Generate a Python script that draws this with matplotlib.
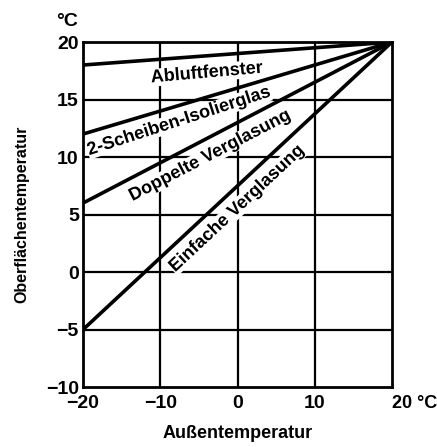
import matplotlib
matplotlib.use("Agg")
import matplotlib.pyplot as plt
import matplotlib.patheffects as pe

plt.rcParams['font.family'] = 'Liberation Sans'

x_outside = [-20, 20]
series_names = ["Abluftfenster", "2-Scheiben-Isolierglas", "Doppelte Verglasung", "Einfache Verglasung"]
series_values = [[18, 20], [12, 20], [6, 20], [-5, 20]]
label_pos = [(-4.0, 17.3), (-7.6, 13.1), (-3.6, 10.1), (-0.1, 5.5)]
label_rot = [5, 18, 27.5, 43]

x_ticks = [-20, -10, 0, 10, 20]
x_ticklabels = ["\u221220", "\u221210", "0", "10", "20 \u00b0C"]
y_ticks = [-10, -5, 0, 5, 10, 15, 20]
y_ticklabels = ["\u221210", "\u22125", "0", "5", "10", "15", "20"]

fig = plt.figure(figsize=(4.37, 4.47), dpi=100)
ax = fig.add_axes([0.19, 0.134, 0.707, 0.772])
ax.set_xlim(-20, 20)
ax.set_ylim(-10, 20)

for v in [-10, 0, 10]:
    ax.axvline(v, color='black', lw=1.6, zorder=1)
for v in [-5, 0, 5, 10, 15]:
    ax.axhline(v, color='black', lw=1.6, zorder=1)

for vals in series_values:
    ax.plot(x_outside, vals, color='black', lw=2.6, zorder=3, solid_capstyle='butt')

for name, (lx, ly), rot in zip(series_names, label_pos, label_rot):
    ax.text(lx, ly, name, rotation=rot, rotation_mode='anchor', ha='center', va='center',
            fontsize=13, fontweight='bold', family='Liberation Sans', zorder=2,
            path_effects=[pe.Normal()],
            bbox=dict(facecolor='white', edgecolor='none', pad=0.3))

for s in ax.spines.values():
    s.set_linewidth(2)

ax.set_xticks(x_ticks)
ax.set_xticklabels(x_ticklabels)
ax.set_yticks(y_ticks)
ax.set_yticklabels(y_ticklabels)
ax.tick_params(axis='y', length=0, labelsize=14, pad=3)
ax.tick_params(axis='x', length=0, labelsize=14, pad=6)
for t in ax.get_xticklabels() + ax.get_yticklabels():
    t.set_fontweight('bold')
xl = ax.get_xticklabels()
xl[-1].set_horizontalalignment('left')
xl[-1].set_x(18.5)
xl[-1].set_fontsize(13)
yl = ax.get_yticklabels()
yl[0].set_y(-9.6)

ax.set_xlabel("Au\u00dfentemperatur", fontsize=13, fontweight='bold', labelpad=9)
ax.set_ylabel("Oberfl\u00e4chentemperatur", fontsize=11.5, fontweight='bold', labelpad=12)
fig.text(0.153, 0.952, "\u00b0C", fontsize=14, fontweight='bold', ha='center', va='center')

fig.savefig("out.png", dpi=100)
